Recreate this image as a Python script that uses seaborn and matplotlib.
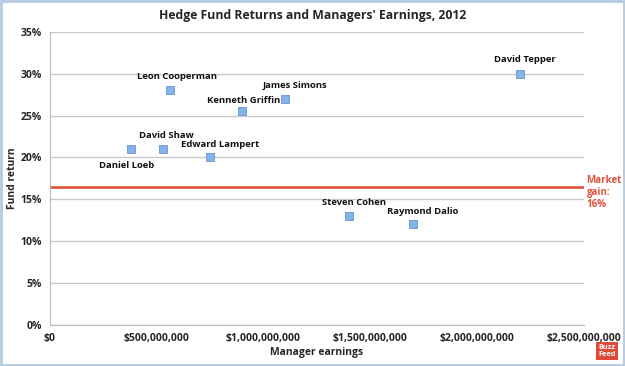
import pandas as pd
import matplotlib.pyplot as plt
import matplotlib.ticker as mticker
import seaborn as sns

# data
managers = ['Daniel Loeb', 'David Shaw', 'Leon Cooperman', 'Edward Lampert',
            'Kenneth Griffin', 'James Simons', 'Steven Cohen', 'Raymond Dalio',
            'David Tepper']
earnings = [380e6, 530e6, 560e6, 750e6, 900e6, 1.1e9, 1.4e9, 1.7e9, 2.2e9]
fund_return = [21, 21, 28, 20, 25.5, 27, 13, 12, 30]
market_gain = 16.5

df = pd.DataFrame({'manager': managers, 'earnings': earnings, 'ret': fund_return})

# label offsets in points (dx, dy)
label_pos = {
    'Daniel Loeb': (-3, -12),
    'David Shaw': (2, 10),
    'Leon Cooperman': (5, 10),
    'Edward Lampert': (7, 9),
    'Kenneth Griffin': (1, 8),
    'James Simons': (7, 10),
    'Steven Cohen': (4, 10),
    'Raymond Dalio': (7, 9),
    'David Tepper': (4, 10),
}

sns.set_style('white')
plt.rcParams['font.family'] = ['Open Sans', 'DejaVu Sans']
plt.rcParams['font.weight'] = 'bold'

fig = plt.figure(figsize=(6.25, 3.66), dpi=100)
ax = fig.add_axes([0.08, 0.112, 0.854, 0.801])

ax.axhline(market_gain, color='#E0533A', linewidth=1.9, zorder=2)
sns.scatterplot(data=df, x='earnings', y='ret', marker='s', s=32,
                color='#86B4EA', edgecolor='#6494CF', linewidth=0.6,
                zorder=3, ax=ax)

for name, x, y in zip(managers, earnings, fund_return):
    dx, dy = label_pos[name]
    ax.annotate(name, (x, y), xytext=(dx, dy), textcoords='offset points',
                ha='center', va='center', fontsize=6.8, fontweight='bold', color='#111111')

ax.set_xlim(0, 2.5e9)
ax.set_ylim(0, 35)
ax.xaxis.set_major_locator(mticker.MultipleLocator(5e8))
ax.yaxis.set_major_locator(mticker.MultipleLocator(5))
ax.xaxis.set_major_formatter(mticker.FuncFormatter(lambda v, p: '${:,.0f}'.format(v)))
ax.yaxis.set_major_formatter(mticker.FuncFormatter(lambda v, p: '{:.0f}%'.format(v)))
ax.grid(axis='y', color='#C9C9C9', linewidth=1)
ax.grid(axis='x', visible=False)
ax.set_axisbelow(True)
ax.tick_params(axis='x', direction='in', length=3, color='#BBBBBB', pad=6, labelsize=7.5)
ax.tick_params(axis='y', length=0, pad=6, labelsize=7.5)
for lbl in ax.get_xticklabels() + ax.get_yticklabels():
    lbl.set_fontweight('bold')
sns.despine(ax=ax)
ax.spines['left'].set_color('#BBBBBB')
ax.spines['bottom'].set_color('#BBBBBB')

ax.set_xlabel('Manager earnings', fontsize=7.5, fontweight='bold', labelpad=2)
ax.set_ylabel('Fund return', fontsize=7.5, fontweight='bold')
ax.yaxis.set_label_coords(-0.06, 0.5)
fig.text(0.5, 0.958, "Hedge Fund Returns and Managers' Earnings, 2012",
         ha='center', va='center', fontsize=8.8, fontweight='bold')

ax.text(1.005, market_gain + 1.4, 'Market\ngain:\n16%', transform=ax.get_yaxis_transform(),
        ha='left', va='top', fontsize=7, fontweight='bold', color='#E0533A',
        linespacing=1.1)

fig.text(0.971, 0.041, 'Buzz\nFeed', ha='center', va='center', fontsize=5.3,
         color='white', fontweight='bold', linespacing=0.9,
         bbox=dict(boxstyle='square,pad=0.3', facecolor='#E0493A', edgecolor='none'))

fig.patch.set_facecolor('white')
fig.patch.set_edgecolor('#B9CDE2')
fig.patch.set_linewidth(2.5)
fig.savefig('out.png', dpi=100, facecolor='white', edgecolor='#B9CDE2')
